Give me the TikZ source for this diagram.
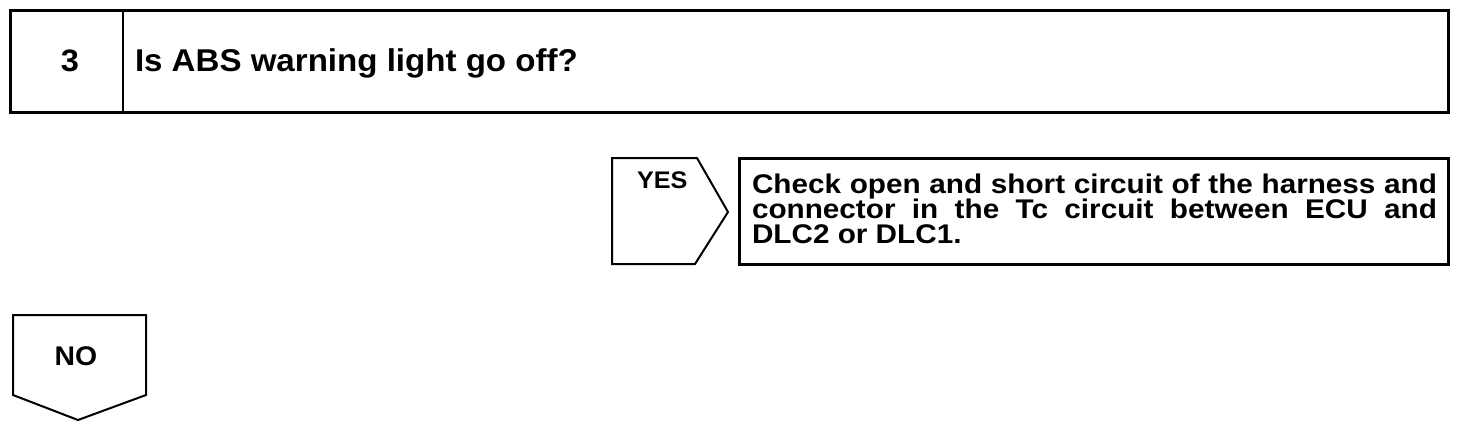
\documentclass[tikz,border=0pt]{standalone}
\usepackage{fontspec}
\newfontfamily\hb{Liberation Sans}[FakeStretch=1.05]
\newfontfamily\hbw{Liberation Sans}[FakeStretch=1.1]
\begin{document}
\begin{tikzpicture}[x=1pt,y=1pt,
  thickframe/.style={draw=black,line width=3pt},
  thinframe/.style={draw=black,line width=2pt,line join=miter},
  txt/.style={inner sep=0pt,outer sep=0pt,text=black},
  chkline/.style={txt,anchor=base west,font={\hbw\bfseries\fontsize{27}{29}\selectfont}},
]
\useasboundingbox[fill=white] (0,0) rectangle (1472,-432);
% top question box
\draw[thickframe] (10.5,-10.5) rectangle (1448,-112.5);
\draw[line width=2pt] (123,-10.5) -- (123,-112.5);
\node[txt,anchor=base] (num) at (70,-71) {\hb\bfseries\fontsize{31}{33}\selectfont 3};
\node[txt,anchor=base west] (q) at (135,-71) {\hb\bfseries\fontsize{31.5}{33}\selectfont Is ABS warning light go off?};
% YES tab
\draw[thinframe] (612,-158) -- (697,-158) -- (728,-212) -- (695,-264) -- (612,-264) -- cycle;
\node[txt,anchor=base west] (yes) at (637,-188) {\hb\bfseries\fontsize{24}{26}\selectfont YES};
% check box
\draw[thickframe] (739,-158) rectangle (1448,-264);
\node[chkline] (chk1) at (752,-193.5) {\makebox[685pt][s]{Check open and short circuit of the harness and}};
\node[chkline] (chk2) at (752,-218) {\makebox[685pt][s]{connector in the Tc circuit between ECU and}};
\node[chkline] (chk3) at (752,-243) {DLC2 or DLC1.};
% NO tab
\draw[thinframe] (13,-315) -- (146,-315) -- (146,-395) -- (78,-420) -- (13,-395) -- cycle;
\node[txt,anchor=base] (no) at (76,-365) {\hb\bfseries\fontsize{27}{29}\selectfont NO};
\end{tikzpicture}
\end{document}
